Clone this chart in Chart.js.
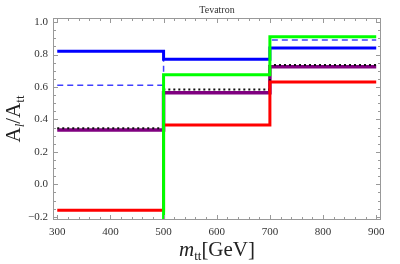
<!DOCTYPE html>
<html>
<head>
<meta charset="utf-8">
<script src="https://cdn.jsdelivr.net/npm/chart.js@4.4.0/dist/chart.umd.min.js"></script>
<style>
  html, body { margin: 0; padding: 0; background: #fff; }
  #wrap { width: 400px; height: 264px; }
</style>
</head>
<body>
<div id="wrap"><canvas id="cv"></canvas></div>
<script>
// bin edges in m_tt (GeV)
const binEdges = [300, 500, 700, 900];
const yTicks = [-0.2, 0.0, 0.2, 0.4, 0.6, 0.8, 1.0];
const xTicks = [300, 400, 500, 600, 700, 800, 900];

// one value per bin
const blueSolid  = [0.82, 0.77, 0.84];
const blueDashed = [0.61, 0.77, 0.89];
const greenLine  = [-0.5, 0.675, 0.91];   // first bin is below the plot
const redLine    = [-0.16, 0.365, 0.63];
const purpleLine = [0.335, 0.565, 0.725];
const blackDot   = [0.345, 0.585, 0.735];

function steps(vals) {
  return binEdges.map((x, i) => ({ x, y: vals[Math.min(i, vals.length - 1)] }));
}

function ds(vals, color, width, dash, order) {
  return {
    data: steps(vals), borderColor: color, borderWidth: width, borderDash: dash || [],
    stepped: 'before', pointRadius: 0, fill: false, order, borderCapStyle: 'butt'
  };
}

// frame + inward ticks + custom titles
const framePlugin = {
  id: 'frame',
  afterDraw(chart) {
    const { ctx, chartArea: a, scales } = chart;
    const xs = scales.x, ys = scales.y;
    ctx.save();
    ctx.strokeStyle = '#999';
    ctx.lineWidth = 1;
    ctx.strokeRect(a.left + 0.5, a.top + 0.5, a.right - a.left - 1, a.bottom - a.top - 1);
    ctx.beginPath();
    for (let v = 300; v <= 900; v += 20) {
      const px = Math.round(xs.getPixelForValue(v)) + 0.5;
      const len = (v % 100 === 0) ? 5 : 3;
      ctx.moveTo(px, a.bottom); ctx.lineTo(px, a.bottom - len);
      ctx.moveTo(px, a.top); ctx.lineTo(px, a.top + len);
    }
    for (let k = -4; k <= 20; k++) {
      const v = k * 0.05;
      const py = Math.round(ys.getPixelForValue(v)) + 0.5;
      const len = (k % 4 === 0) ? 5 : 3;
      ctx.moveTo(a.left, py); ctx.lineTo(a.left + len, py);
      ctx.moveTo(a.right, py); ctx.lineTo(a.right - len, py);
    }
    ctx.stroke();

    // title
    ctx.fillStyle = '#333';
    ctx.font = '10px "Liberation Serif"';
    ctx.textAlign = 'center';
    ctx.textBaseline = 'alphabetic';
    ctx.fillText('Tevatron', (a.left + a.right) / 2, 13);

    // x title: m_tt[GeV]
    ctx.fillStyle = '#222';
    const parts = [
      { t: 'm', f: 'italic 21px "Liberation Serif"', dy: 0 },
      { t: 'tt', f: '13px "Liberation Serif"', dy: 4 },
      { t: '[GeV]', f: '21px "Liberation Serif"', dy: 0 }
    ];
    drawParts(ctx, parts, (a.left + a.right) / 2, 256);

    // y title: A_l/A_tt
    ctx.save();
    ctx.translate(20, (a.top + a.bottom) / 2);
    ctx.rotate(-Math.PI / 2);
    const yparts = [
      { t: 'A', f: '21px "Liberation Serif"', dy: 0 },
      { t: 'l', f: 'italic 13px "Liberation Serif"', dy: 4 },
      { t: '/', f: '21px "Liberation Serif"', dy: 0 },
      { t: 'A', f: '21px "Liberation Serif"', dy: 0 },
      { t: 'tt', f: '13px "Liberation Serif"', dy: 4 }
    ];
    drawParts(ctx, yparts, 0, 0);
    ctx.restore();
    ctx.restore();
  }
};

function drawParts(ctx, parts, cx, baseY) {
  ctx.textAlign = 'left';
  let w = 0;
  parts.forEach(p => { ctx.font = p.f; w += ctx.measureText(p.t).width; });
  let x = cx - w / 2;
  parts.forEach(p => {
    ctx.font = p.f;
    ctx.fillText(p.t, x, baseY + p.dy);
    x += ctx.measureText(p.t).width;
  });
}

// lower order is drawn on top
new Chart(document.getElementById('cv'), {
  type: 'line',
  data: {
    datasets: [
      ds(greenLine, '#00ff00', 3, null, 1),
      ds(redLine, '#ff0000', 3, null, 2),
      ds(blueSolid, '#0000ff', 3, null, 3),
      ds(blueDashed, '#4040ff', 1.5, [6, 4], 4),
      ds(blackDot, '#111', 2, [2, 3], 5),
      ds(purpleLine, '#800080', 3.5, null, 6)
    ]
  },
  options: {
    responsive: true,
    maintainAspectRatio: false,
    animation: false,
    layout: { padding: { left: 0, top: 18, right: 19, bottom: 0 } },
    plugins: { legend: { display: false }, tooltip: { enabled: false } },
    scales: {
      x: {
        type: 'linear', min: 292, max: 909,
        afterBuildTicks: s => { s.ticks = xTicks.map(v => ({ value: v })); },
        afterFit: s => { s.height = 44; },
        grid: { display: false, drawTicks: false },
        border: { display: false },
        ticks: { color: '#333', padding: 6, maxRotation: 0, font: { family: 'Liberation Serif', size: 11 } }
      },
      y: {
        min: -0.22, max: 1.025,
        afterBuildTicks: s => { s.ticks = yTicks.map(v => ({ value: v })); },
        afterFit: s => { s.width = 53; },
        grid: { display: false, drawTicks: false },
        border: { display: false },
        ticks: {
          color: '#333', padding: 5, font: { family: 'Liberation Serif', size: 11 },
          callback: v => v.toFixed(1).replace('-', '\u2212')
        }
      }
    }
  },
  plugins: [framePlugin]
});
</script>
</body>
</html>
